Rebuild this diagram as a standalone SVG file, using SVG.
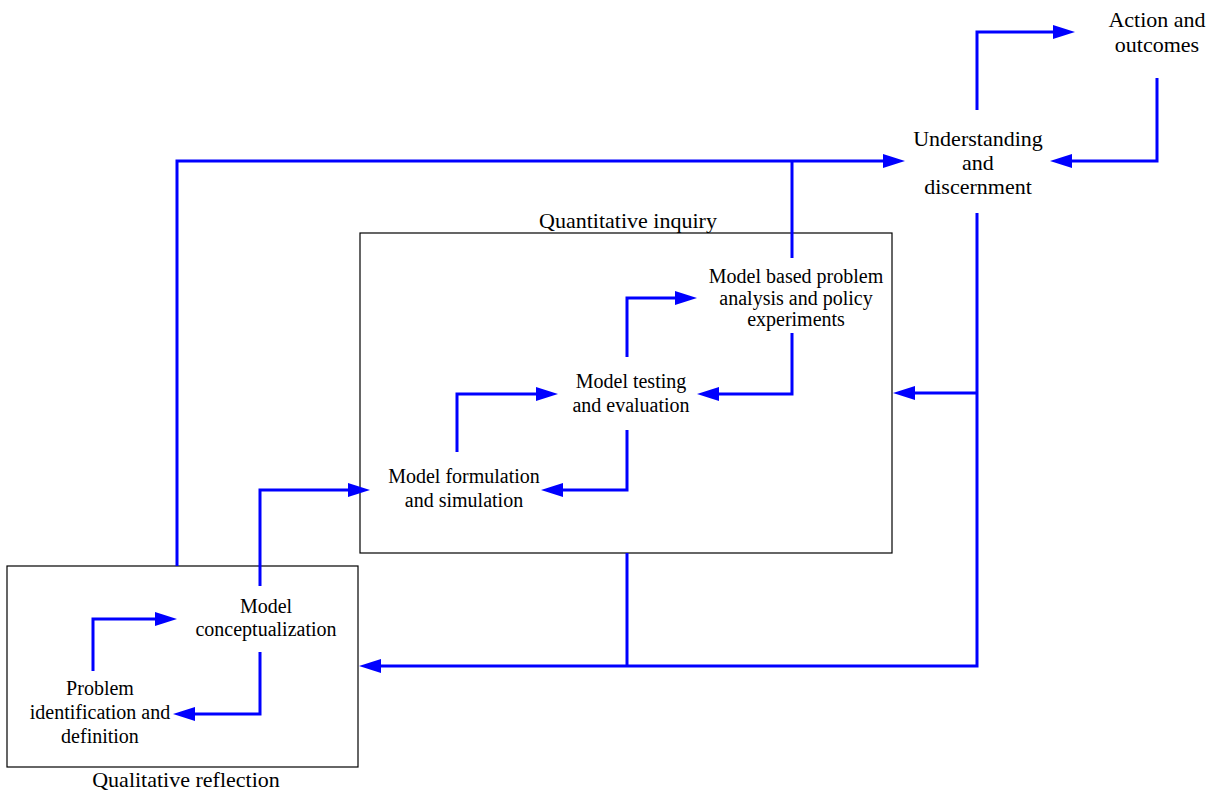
<svg xmlns="http://www.w3.org/2000/svg" width="1214" height="793" viewBox="0 0 1214 793">
<style>
.box{fill:none;stroke:#000;stroke-width:1.2}
.c{fill:none;stroke:#0000ff;stroke-width:3;marker-end:url(#ah)}
.cn{fill:none;stroke:#0000ff;stroke-width:3}
text{font-family:"Liberation Serif","Times New Roman",serif;fill:#000;text-anchor:middle}
.big{font-size:22px}
.lab{font-size:22px}
.n{font-size:20px}
</style>
<defs>
<marker id="ah" markerUnits="userSpaceOnUse" markerWidth="24" markerHeight="16" refX="12" refY="7" orient="auto" overflow="visible">
<path d="M0,0 L22,7 L0,14 z" fill="#0000ff"/>
</marker>
</defs>
<rect width="1214" height="793" fill="#fff"/>
<g id="qualitative-box">
<rect class="box" x="7" y="566" width="351" height="201"/>
<text class="lab" x="186" y="787">Qualitative reflection</text>
</g>
<g id="quantitative-box">
<rect class="box" x="360" y="233" width="532" height="320"/>
<text class="lab" x="628" y="228">Quantitative inquiry</text>
</g>
<g id="connectors">
<path class="c" d="M977,110 V32 H1065"/>
<path class="c" d="M1157,78 V161 H1060"/>
<path class="c" d="M177,566 V161 H895"/>
<path class="cn" d="M792,258 V161"/>
<path class="c" d="M977,213 V666 H369"/>
<path class="c" d="M977,393 H903"/>
<path class="cn" d="M627,553 V666"/>
<path class="c" d="M260,586 V490 H360"/>
<path class="c" d="M457,452 V394 H548"/>
<path class="c" d="M627,430 V490 H551"/>
<path class="c" d="M627,357 V298 H687"/>
<path class="c" d="M792,333 V394 H707"/>
<path class="c" d="M93,671 V619 H167"/>
<path class="c" d="M260,652 V714 H183"/>
</g>
<g id="action">
<text class="big" x="1157" y="27">Action and</text>
<text class="big" x="1157" y="52">outcomes</text>
</g>
<g id="understanding">
<text class="big" x="978" y="146">Understanding</text>
<text class="big" x="978" y="170">and</text>
<text class="big" x="978" y="194">discernment</text>
</g>
<g id="model-based">
<text class="n" x="796" y="283">Model based problem</text>
<text class="n" x="796" y="305">analysis and policy</text>
<text class="n" x="796" y="326">experiments</text>
</g>
<g id="model-testing">
<text class="n" x="631" y="388">Model testing</text>
<text class="n" x="631" y="412">and evaluation</text>
</g>
<g id="model-formulation">
<text class="n" x="464" y="483">Model formulation</text>
<text class="n" x="464" y="507">and simulation</text>
</g>
<g id="model-conceptualization">
<text class="n" x="266" y="613">Model</text>
<text class="n" x="266" y="636">conceptualization</text>
</g>
<g id="problem">
<text class="n" x="100" y="695">Problem</text>
<text class="n" x="100" y="719">identification and</text>
<text class="n" x="100" y="743">definition</text>
</g>
</svg>
